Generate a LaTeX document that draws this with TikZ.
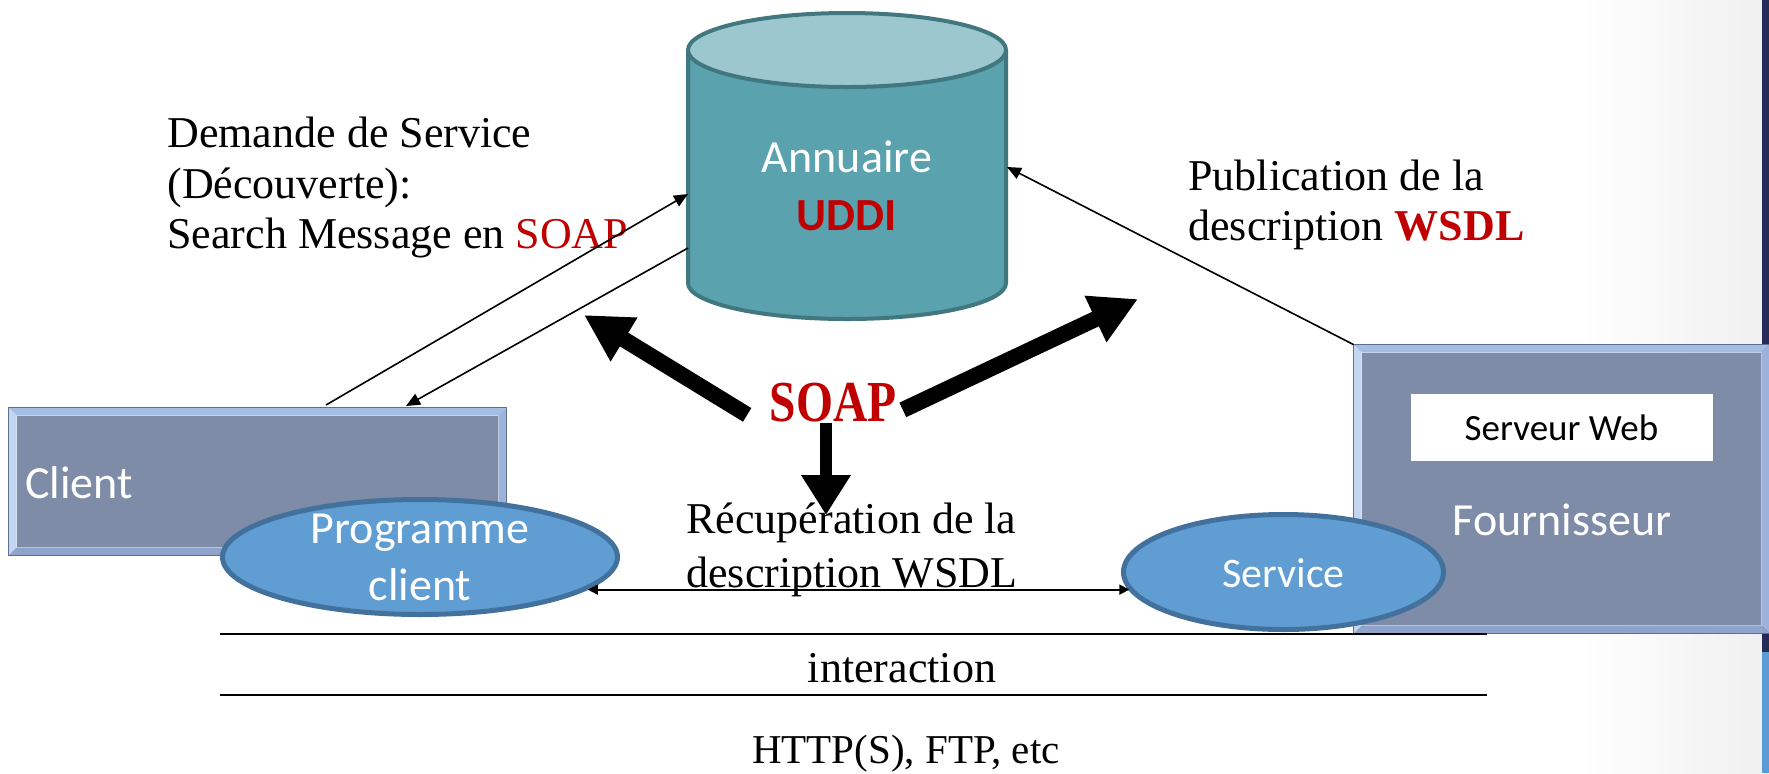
\documentclass[tikz,border=0pt]{standalone}
\usepackage{graphicx}
\usepackage{fontspec}
\setmainfont{Liberation Serif}
\newfontfamily\calib{Carlito}
\usetikzlibrary{arrows.meta,shapes.geometric}

\definecolor{cylside}{HTML}{5AA2AE}
\definecolor{cyltop}{HTML}{9DC7CF}
\definecolor{cyledge}{HTML}{41777F}
\definecolor{boxfill}{HTML}{7F8CA8}
\definecolor{bvtop}{HTML}{A6BDE3}
\definecolor{bvleft}{HTML}{C3D5F0}
\definecolor{bvbottom}{HTML}{8FA3CB}
\definecolor{bvright}{HTML}{9DB2DA}
\definecolor{boxedge}{HTML}{5E6E8E}
\definecolor{ellfill}{HTML}{5F9DD3}
\definecolor{elledge}{HTML}{41719C}
\definecolor{soapred}{HTML}{C00000}
\definecolor{navy}{HTML}{262A57}
\definecolor{slideblue}{HTML}{5B9BD5}

\tikzset{
  lbl/.style={inner sep=0pt, font=\fontsize{22}{26}\selectfont},
  wlbl/.style={inner sep=0pt, text=white},
  frame/.style={draw=none, inner sep=0pt, rectangle},
  oval/.style={ellipse, draw=elledge, fill=ellfill, line width=2.5pt, inner sep=0pt},
  thinarrow/.style={draw=black, line width=0.8pt, -{Triangle[length=7pt,width=6pt]}},
  biarrow/.style={draw=black, line width=0.9pt, {Triangle[length=5pt,width=5pt]}-{Triangle[length=5pt,width=5pt]}},
  fatarrow/.style={draw=black, line width=8pt, -{Triangle[length=23.5pt,width=24pt]}},
  separator/.style={draw=black, line width=1pt},
}

% bevelled box drawn around an empty rectangular node
\newcommand\bevelbox[1]{%
  \fill[bvtop] (#1.north west) -- (#1.north east) -- ([shift={(-4pt,-4pt)}]#1.north east) -- ([shift={(4pt,-4pt)}]#1.north west) -- cycle;
  \fill[bvleft] (#1.north west) -- ([shift={(4pt,-4pt)}]#1.north west) -- ([shift={(4pt,4pt)}]#1.south west) -- (#1.south west) -- cycle;
  \fill[bvbottom] (#1.south west) -- ([shift={(4pt,4pt)}]#1.south west) -- ([shift={(-4pt,4pt)}]#1.south east) -- (#1.south east) -- cycle;
  \fill[bvright] (#1.south east) -- ([shift={(-4pt,4pt)}]#1.south east) -- ([shift={(-4pt,-4pt)}]#1.north east) -- (#1.north east) -- cycle;
  \fill[boxfill] ([shift={(4pt,-4pt)}]#1.north west) rectangle ([shift={(-4pt,4pt)}]#1.south east);
  \draw[boxedge, line width=0.6pt] (#1.north west) rectangle (#1.south east);
}

\begin{document}
\begin{tikzpicture}[x=0.5pt,y=-0.5pt]
\useasboundingbox (0,0) rectangle (1769,773);
\fill[white] (0,0) rectangle (1769,773);
\shade[left color=white, right color=black!6] (1580,0) rectangle (1762,773);
\fill[navy] (1762,0) rectangle (1769,773);
\fill[slideblue] (1762,652) rectangle (1769,773);

% directory cylinder
\node[frame, minimum width=159pt, minimum height=153pt] (annuaire) at (847,166) {};
\fill[cylside] (688,50) -- (688,283) arc[start angle=180, end angle=0, x radius=159, y radius=36] -- (1006,50) -- cycle;
\draw[cyledge, line width=2pt] (688,50) -- (688,283) arc[start angle=180, end angle=0, x radius=159, y radius=36] -- (1006,50);
\draw[cyledge, fill=cyltop, line width=2pt] (847,50) ellipse [x radius=159, y radius=37];
\node[wlbl, font=\calib\fontsize{23}{28}\selectfont, anchor=base] (annTxt) at (847,172) {Annuaire};
\node[wlbl, text=soapred, font=\calib\bfseries\fontsize{23}{28}\selectfont, anchor=base] (uddiTxt) at (847,230) {UDDI};

% client side
\node[frame, minimum width=248.5pt, minimum height=73.5pt] (client) at (257.5,481.5) {};
\bevelbox{client}
\node[wlbl, font=\calib\fontsize{23}{28}\selectfont, anchor=base west] (clientTxt) at (25,498) {Client};
\node[oval, minimum width=197.5pt, minimum height=57.5pt] (prog) at (420,557) {};
\node[wlbl, font=\calib\fontsize{23}{28}\selectfont, anchor=base] (progTxt1) at (420,543) {Programme};
\node[wlbl, font=\calib\fontsize{23}{28}\selectfont, anchor=base] (progTxt2) at (420,600) {client};

% provider side
\node[frame, minimum width=207.5pt, minimum height=144pt] (fourn) at (1561.5,489) {};
\bevelbox{fourn}
\node[fill=white, inner sep=0pt, minimum width=151pt, minimum height=33.5pt, font=\calib\fontsize{18.5}{22}\selectfont] (web) at (1561.5,427.5) {Serveur Web};
\node[wlbl, font=\calib\fontsize{23}{28}\selectfont, anchor=base] (fournTxt) at (1562,535) {Fournisseur};
\node[oval, minimum width=160pt, minimum height=57.5pt] (serv) at (1283.5,572) {};
\node[wlbl, font=\calib\fontsize{21}{25}\selectfont, anchor=base] (servTxt) at (1283.5,587) {Service};

% protocol layers
\draw[separator] (220,634) -- (1487,634);
\draw[separator] (220,695) -- (1487,695);

% labels
\node[lbl, anchor=base west] (dem1) at (167,147) {Demande de Service};
\node[lbl, anchor=base west] (dem2) at (167,198) {(Découverte):};
\node[lbl, anchor=base west] (dem3) at (167,248) {Search Message en \textcolor{soapred}{SOAP}};
\node[lbl, anchor=base west] (pub1) at (1188,190) {Publication de la};
\node[lbl, anchor=base west] (pub2) at (1188,240) {description \textcolor{soapred}{\bfseries WSDL}};
\node[lbl, anchor=base west] (rec1) at (686,533) {Récupération de la};
\node[lbl, anchor=base west] (rec2) at (686,587) {description WSDL};
\node[lbl, anchor=base] (inter) at (902,682) {interaction};
\node[lbl, anchor=base, font=\fontsize{20.5}{24}\selectfont] (proto) at (906,763) {HTTP(S), FTP, etc};

% message ports
\coordinate (cliOut) at (326,405);
\coordinate (cliIn) at (406,406);
\coordinate (annIn) at (688,194);
\coordinate (annOut) at (688,248);
\coordinate (annPub) at (1007,167);
\draw[thinarrow] (cliOut) -- (annIn);
\draw[thinarrow] (annOut) -- (cliIn);
\draw[thinarrow] (fourn.north west) -- (annPub);
\draw[biarrow] (prog.-11.7) -- (serv.187 |- prog.-11.7);

% SOAP hub
\node[inner sep=0pt, text=soapred, font=\bfseries\fontsize{29}{30}\selectfont] (soap) at (833,403) {\scalebox{0.82}[1]{SOAP}};
\coordinate (tipL) at (584,315);
\coordinate (tipR) at (1138,299);
\coordinate (tipD) at (826,515);
\draw[fatarrow] ([shift={(-11pt,4pt)}]soap.south west) -- (tipL);
\draw[fatarrow] ([shift={(3pt,6.5pt)}]soap.south east) -- (tipR);
\draw[fatarrow, line width=6pt, -{Triangle[length=20pt,width=23.5pt]}] ([xshift=-3.5pt]soap.south) -- (tipD);
\end{tikzpicture}
\end{document}
